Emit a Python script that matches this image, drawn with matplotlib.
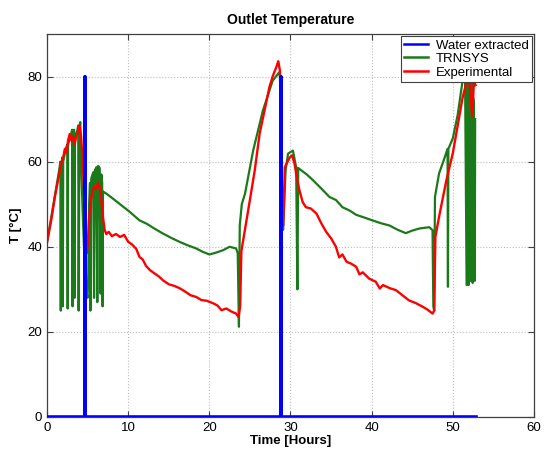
import matplotlib
matplotlib.use("Agg")
import matplotlib.pyplot as plt

plt.rcParams['font.family'] = ['Liberation Sans', 'DejaVu Sans']

# Water extracted (pulses)
water_t = [0, 4.65, 4.65, 4.65, 28.85, 28.85, 28.85, 52.8]
water_T = [0, 0, 80, 0, 0, 80, 0, 0]

# TRNSYS simulation
trnsys_t = [0, 0.8, 1.5, 1.65, 1.7, 1.75, 1.9, 1.95, 2.0, 2.3, 2.5, 2.55, 2.6, 2.9,
            3.1, 3.15, 3.2, 3.35, 3.4, 3.45, 3.7, 3.85, 3.9, 4.0, 4.1, 4.2, 4.4, 4.6,
            4.8, 5.0, 5.1, 5.2, 5.3, 5.35, 5.45, 5.7, 5.8, 5.9, 6.1, 6.2, 6.3, 6.5,
            6.6, 6.7, 6.8, 6.85, 6.9, 7.3, 8.0, 9.0, 10.2, 11.4, 12.3, 13.3, 14.3,
            15.4, 16.4, 17.4, 18.4, 19.2, 20.0, 20.8, 21.7, 22.5, 23.3, 23.5, 23.65,
            23.75, 24.0, 24.4, 25.4, 26.6, 27.8, 28.6, 28.8, 28.9, 29.1, 29.4, 29.7,
            30.3, 30.7, 30.85, 30.95, 31.1, 32.0, 32.8, 34.0, 34.8, 35.6, 36.4, 37.3,
            38.1, 38.9, 40.1, 41.2, 42.2, 43.2, 44.2, 45.0, 45.9, 47.1, 47.5, 47.6,
            47.7, 47.8, 48.3, 49.0, 49.35, 49.4, 49.45, 50.0, 50.6, 51.2, 51.5, 51.7,
            51.8, 51.95, 52.0, 52.2, 52.3, 52.45, 52.5, 52.6, 52.7, 52.75]
trnsys_T = [41, 50, 58, 60, 25, 58, 61, 26, 60, 63, 64, 25.5, 64, 66,
            67.5, 26, 67, 67.5, 28, 66, 67, 68.5, 25, 68, 69.3, 60, 48, 38,
            30, 28, 34, 50, 55, 25, 56, 57.5, 28, 58, 58.7, 27, 59, 58.5,
            29, 57, 55, 26, 53, 52.5, 51.5, 50, 48.2, 46.2, 45.4, 44.2, 43.1,
            42, 41.1, 40.3, 39.6, 38.8, 38.2, 38.6, 39.2, 40, 39.6, 38.5, 21.2,
            45, 50, 52.5, 62.6, 72, 79, 81, 79, 45, 44, 58, 61.9,
            62.6, 58.7, 30, 58.5, 58.3, 57, 55.6, 53.3, 51.7, 51, 49.3, 48.5,
            47.5, 47, 46.2, 45.5, 45, 44, 43.2, 43.8, 44.3, 44.6, 43.9, 26,
            25, 51.7, 57.2, 61, 63, 30.6, 63, 65.5, 71, 79, 82, 31,
            80, 31, 78, 32, 80, 31.5, 75, 74, 32, 70]

# Experimental measurements
exp_t = [0, 0.5, 1.0, 1.5, 1.8, 2.0, 2.2, 2.4, 2.6, 2.8, 3.0, 3.2, 3.4, 3.6, 3.8,
         4.0, 4.2, 4.4, 4.6, 4.8, 4.9, 5.0, 5.2, 5.4, 5.6, 5.8, 6.0, 6.3, 6.5,
         6.7, 6.9, 7.1, 7.3, 7.6, 8.0, 8.5, 9.0, 9.5, 10.0, 10.5, 11.0, 11.4,
         11.8, 12.2, 12.7, 13.2, 13.8, 14.3, 15.0, 15.7, 16.4, 17.0, 17.7, 18.4,
         19.0, 19.7, 20.5, 21.0, 21.5, 22.1, 22.7, 23.3, 23.6, 23.8, 23.95, 24.3,
         25.0, 25.6, 26.2, 26.8, 27.4, 27.8, 28.25, 28.5, 28.7, 28.8, 28.9, 29.1,
         29.3, 29.9, 30.2, 30.5, 30.8, 31.1, 31.5, 31.9, 32.5, 33.2, 33.8, 34.4,
         35.0, 35.6, 36.0, 36.4, 36.9, 37.5, 38.1, 38.5, 38.9, 39.7, 40.5, 41.0,
         41.4, 42.2, 43.0, 43.8, 44.6, 45.4, 46.3, 46.9, 47.5, 47.7, 47.85, 48.3,
         49.2, 50.0, 50.6, 51.2, 51.6, 52.0, 52.2, 52.4, 52.6, 52.8]
exp_T = [41, 46, 52, 57, 60, 61, 63, 62, 65, 66.5, 65, 66, 64, 66, 67,
         68.5, 66, 60, 52, 42, 38.5, 40, 47, 51, 53, 54, 53.5, 55, 54,
         51, 47, 44, 43, 43.5, 42.5, 43, 42.3, 42.8, 41.2, 40.5, 39.5, 37.6,
         37, 35.5, 34.5, 33.8, 33, 32.1, 31.2, 30.8, 30.2, 29.5, 28.6, 28.2,
         27.5, 27.3, 26.7, 26.2, 25.1, 25.5, 24.8, 24.3, 23.5, 26, 39, 43,
         51, 58, 66.6, 72, 77.5, 80, 82.2, 83.6, 81.4, 70, 47, 45,
         58.7, 61, 61.5, 59.5, 56, 53.3, 50.5, 49.3, 49, 47.8, 45.5, 43.5,
         42, 40, 37.5, 38.2, 36.5, 36, 35.3, 33.5, 34, 32.5, 31.8, 30.2,
         31, 30.3, 29.8, 28.6, 27.4, 26.8, 25.9, 25.2, 24.3, 25, 42.3, 47,
         55.6, 62, 68.5, 75, 78, 80.7, 75, 70.5, 79, 78]

fig = plt.figure(figsize=(5.45, 4.51), dpi=100)
ax = fig.add_axes([0.0862, 0.0754, 0.8936, 0.8492])

ax.plot(trnsys_t, trnsys_T, color='#1a7a1a', lw=1.6, label='TRNSYS', zorder=2)
ax.plot(exp_t, exp_T, color='#ff0000', lw=1.7, label='Experimental', zorder=2.5)
ax.plot(water_t, water_T, color='#0000ff', lw=2.6, label='Water extracted', zorder=3)

ax.set_xlim(0, 60)
ax.set_ylim(0, 90)
ax.set_xticks(range(0, 61, 10))
ax.set_yticks(range(0, 81, 20))
ax.tick_params(direction='in', length=4, labelsize=9.5, top=True, right=True,
               color='#404040')
ax.grid(True, linestyle=':', color='#bdbdbd', lw=0.8)
for s in ax.spines.values():
    s.set_color('#404040')
    s.set_linewidth(0.9)

ax.set_title('Outlet Temperature', fontsize=10, fontweight='bold', pad=7)
ax.set_xlabel('Time [Hours]', fontsize=9.5, fontweight='bold', labelpad=1)
ax.set_ylabel('T [°C]', fontsize=9.5, fontweight='bold', labelpad=4)

h, l = ax.get_legend_handles_labels()
order = [2, 0, 1]
leg = ax.legend([h[i] for i in order], [l[i] for i in order], loc='upper right',
                fontsize=9.5, fancybox=False, framealpha=1, edgecolor='#404040',
                borderaxespad=0.15, handlelength=1.8, labelspacing=0.1,
                borderpad=0.25, handletextpad=0.6)
leg.get_frame().set_linewidth(0.8)
for line in leg.get_lines():
    line.set_linewidth(1.8)
leg.set_zorder(5)

fig.savefig('out.png', dpi=100)
